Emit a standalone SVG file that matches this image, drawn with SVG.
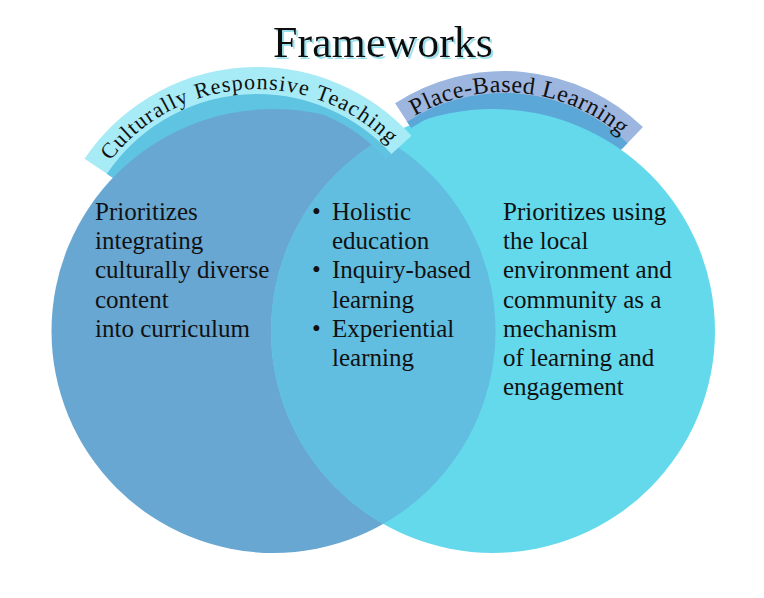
<svg xmlns="http://www.w3.org/2000/svg" width="764" height="598" viewBox="0 0 764 598">
  <style>
    .body { font-family: "Liberation Serif", "Times New Roman", serif; font-size: 25px; fill: #111111; }
    .arc { font-family: "Liberation Serif", "Times New Roman", serif; fill: #111111; }
    .band { fill: none; stroke-linecap: butt; }
    .stripL { stroke: #5EC4E2; }
    .stripR { stroke: #5BA8D8; }
  </style>
  <defs>
    <filter id="titleShadow" x="-10%" y="-30%" width="120%" height="160%">
      <feDropShadow dx="2" dy="2" stdDeviation="0.6" flood-color="#8FDDEB" flood-opacity="0.9"/>
    </filter>
    <clipPath id="clipLeft">
      <circle cx="273.5" cy="331" r="222"/>
    </clipPath>
    <path id="pathLeft" d="M72.3,253.1 A186,186 0 0 1 438.0,232.4"/>
    <path id="pathRight" d="M331.5,223.2 A179,179 0 0 1 682.4,257.0"/>
  </defs>

  <rect width="764" height="598" fill="#FFFFFF"/>

  <g id="title">
    <text x="383" y="57" text-anchor="middle" font-family="'Liberation Serif', 'Times New Roman', serif" font-size="44" fill="#111111" filter="url(#titleShadow)">Frameworks</text>
  </g>

  <g id="banner-shadows">
    <path class="band stripL" d="M115.7,179.7 A170.5,170.5 0 0 1 383.7,160.9" stroke-width="21"/>
    <path class="band stripR" d="M413.1,130.9 A167,167 0 0 1 620.0,150.9" stroke-width="22"/>
  </g>

  <g id="circle-left">
    <circle cx="273.5" cy="331" r="222" fill="#69A7D3"/>
  </g>
  <g id="circle-right">
    <circle cx="493" cy="331" r="222" fill="#65D9EC"/>
  </g>
  <g id="overlap">
    <circle cx="493" cy="331" r="222" fill="#61BEE0" clip-path="url(#clipLeft)"/>
  </g>

  <g id="banner-left">
    <path class="band stripL" d="M109.8,175.7 A177.5,177.5 0 0 1 388.9,156.2" stroke-width="8"/>
    <path class="band" d="M95.8,166.2 A194.5,194.5 0 0 1 401.5,144.9" stroke="#A6EBF5" stroke-width="27"/>
    <text class="arc" font-size="22" letter-spacing="1.2" text-anchor="middle"><textPath href="#pathLeft" startOffset="50%">Culturally Responsive Teaching</textPath></text>
  </g>

  <g id="banner-right">
    <path class="band stripR" d="M409.0,124.6 A174.5,174.5 0 0 1 625.2,145.5" stroke-width="8"/>
    <path class="band" d="M401.1,112.5 A189,189 0 0 1 635.3,135.0" stroke="#9DB6DF" stroke-width="22"/>
    <text class="arc" font-size="24" letter-spacing="0.5" text-anchor="middle"><textPath href="#pathRight" startOffset="50%">Place-Based Learning</textPath></text>
  </g>

  <g id="text-left">
    <text class="body">
      <tspan x="95" y="220">Prioritizes</tspan>
      <tspan x="95" y="249.2">integrating</tspan>
      <tspan x="95" y="278.4">culturally diverse</tspan>
      <tspan x="95" y="307.6">content</tspan>
      <tspan x="95" y="336.8">into curriculum</tspan>
    </text>
  </g>

  <g id="text-overlap">
    <text class="body">
      <tspan x="312" y="220">•</tspan><tspan x="332" y="220">Holistic</tspan>
      <tspan x="332" y="249.2">education</tspan>
      <tspan x="312" y="278.4">•</tspan><tspan x="332" y="278.4">Inquiry-based</tspan>
      <tspan x="332" y="307.6">learning</tspan>
      <tspan x="312" y="336.8">•</tspan><tspan x="332" y="336.8">Experiential</tspan>
      <tspan x="332" y="366">learning</tspan>
    </text>
  </g>

  <g id="text-right">
    <text class="body">
      <tspan x="503" y="220">Prioritizes using</tspan>
      <tspan x="503" y="249.2">the local</tspan>
      <tspan x="503" y="278.4">environment and</tspan>
      <tspan x="503" y="307.6">community as a</tspan>
      <tspan x="503" y="336.8">mechanism</tspan>
      <tspan x="503" y="366">of learning and</tspan>
      <tspan x="503" y="395.2">engagement</tspan>
    </text>
  </g>

  <g id="connectors"/>
</svg>
